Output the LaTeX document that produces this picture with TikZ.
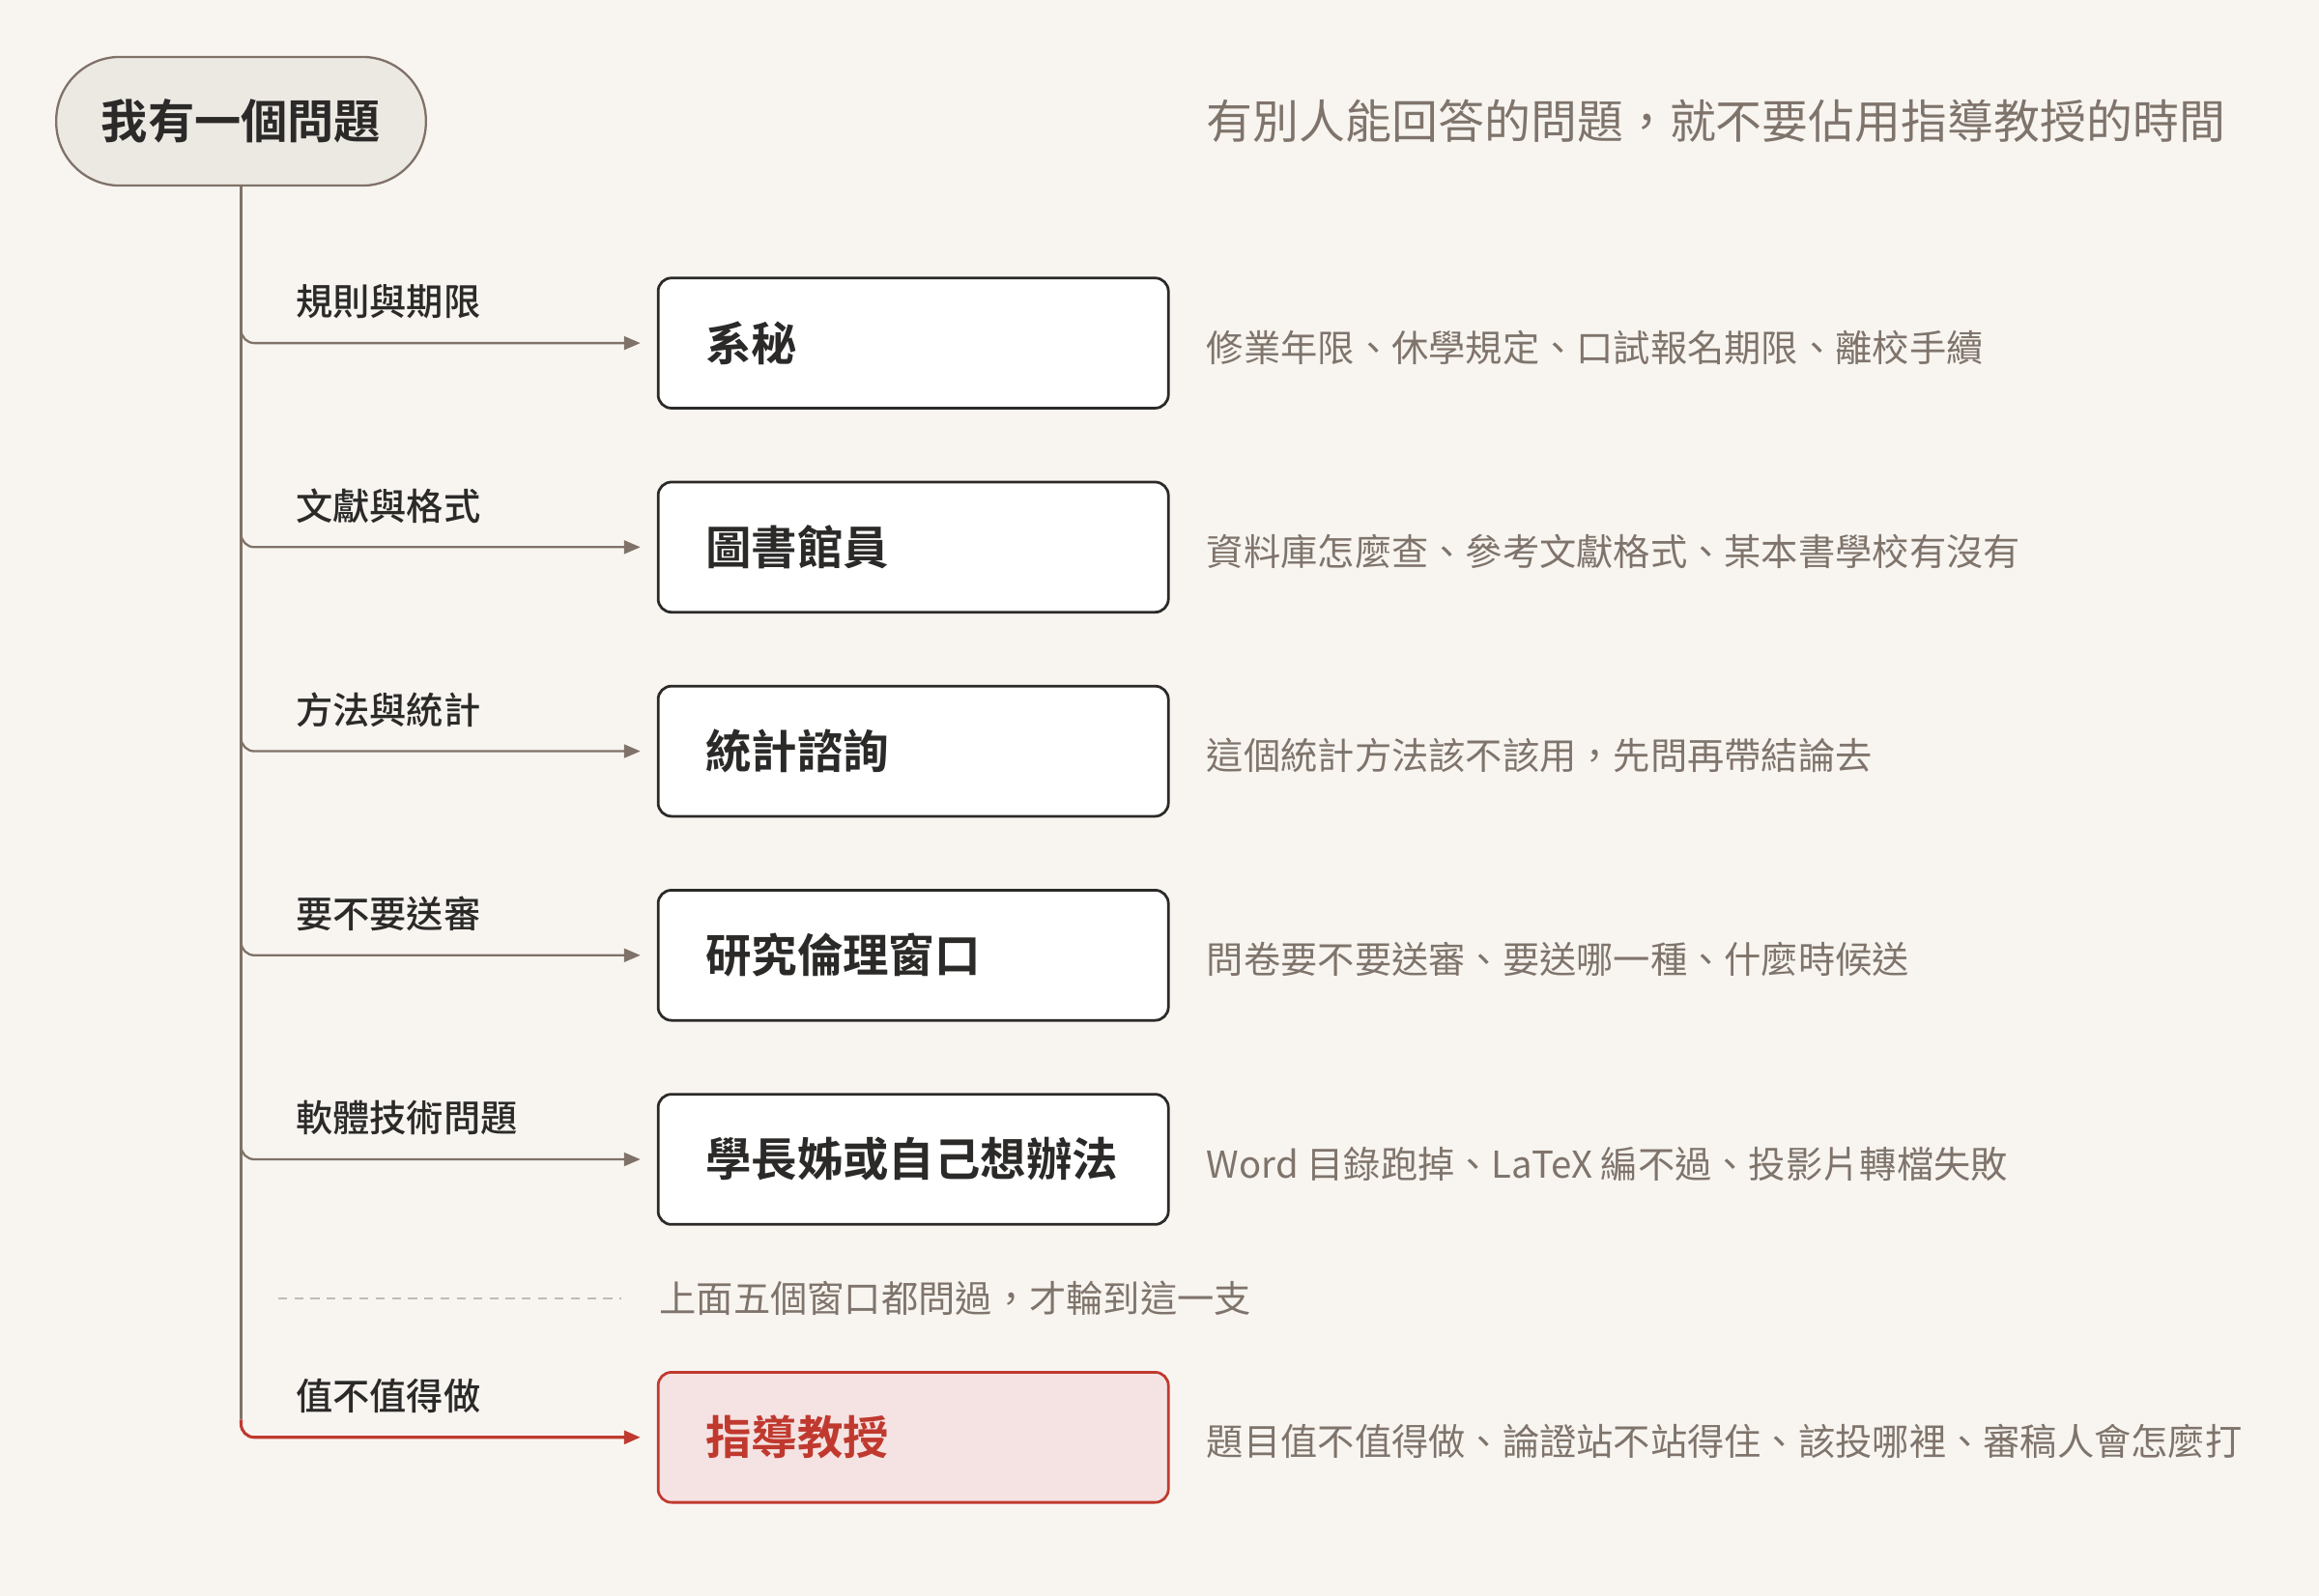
\documentclass[tikz,border=0pt]{standalone}
\usepackage{fontspec}
\newfontfamily\cjk{Noto Sans CJK TC}
\newfontfamily\cjkmed{Noto Sans CJK TC Medium}
\newfontfamily\cjkbold{Noto Sans CJK TC Bold}
\usepackage{tikz}
\usetikzlibrary{calc}
\usetikzlibrary{positioning}
\usetikzlibrary{arrows.meta}

\definecolor{paper}{HTML}{F8F5F1}
\definecolor{pillfill}{HTML}{ECE9E3}
\definecolor{stem}{HTML}{7F7268}
\definecolor{ink}{HTML}{2B2A29}
\definecolor{muted}{HTML}{7F746B}
\definecolor{dashgray}{HTML}{C2BAB2}
\definecolor{advred}{HTML}{C0392F}
\definecolor{advfill}{HTML}{F4E3E2}

\begin{document}
\begin{tikzpicture}[x=1pt,y=-1pt,node distance=50pt,outer sep=0pt]

	\tikzstyle{every node}=[font=\cjk]

	\tikzset{pill/.style={shape=rectangle,rounded corners=43pt,draw=stem,line width=1.5pt,
		fill=pillfill,minimum width=250pt,minimum height=87pt,
		text=ink,font=\cjkbold\fontsize{31.5pt}{36pt}\selectfont}}

	\tikzset{window/.style={shape=rectangle,rounded corners=9pt,draw=ink,line width=1.8pt,
		fill=white,minimum height=88pt,text width=281pt,inner xsep=32pt,inner ysep=0pt,
		align=left,text=ink,font=\cjkbold\fontsize{31pt}{36pt}\selectfont}}

	\tikzset{advisorbox/.style={draw=advred,fill=advfill,text=advred}}

	\tikzset{lab/.style={anchor=west,inner sep=0pt,text=ink,
		font=\cjkmed\fontsize{25pt}{30pt}\selectfont}}

	\tikzset{desc/.style={anchor=west,inner sep=0pt,text=muted,
		font=\cjk\fontsize{25pt}{30pt}\selectfont}}

	\tikzset{branch/.style={draw=stem,line width=1.5pt,rounded corners=9pt,
		-{Triangle[length=11pt,width=9pt]},shorten >=12pt}}

	\useasboundingbox [fill=paper] (0,0) rectangle (1568,1079);

	% The question and the rule of thumb.
	\node (question) [pill] at (163,82) {我有一個問題};
	\node (motto) [desc,font=\cjk\fontsize{31.3pt}{36pt}\selectfont] at (816,82)
		{有別人能回答的問題，就不要佔用指導教授的時間};

	% Windows to ask first, one below another.
	\node (secretary) [window] at (617.5,232) {系秘};
	\node (librarian) [window,below=of secretary] {圖書館員};
	\node (statistics) [window,below=of librarian] {統計諮詢};
	\node (ethics) [window,below=of statistics] {研究倫理窗口};
	\node (seniors) [window,below=of ethics] {學長姊或自己想辦法};
	\node (advisor) [window,advisorbox,below=100pt of seniors] {指導教授};

	% Topics above the branches.
	\node (rules) [lab] at ($(secretary.west)+(-245,-28)$) {規則與期限};
	\node (citing) [lab] at ($(librarian.west)+(-245,-28)$) {文獻與格式};
	\node (methods) [lab] at ($(statistics.west)+(-245,-28)$) {方法與統計};
	\node (review) [lab] at ($(ethics.west)+(-245,-28)$) {要不要送審};
	\node (software) [lab] at ($(seniors.west)+(-245,-28)$) {軟體技術問題};
	\node (worth) [lab] at ($(advisor.west)+(-245,-28)$) {值不值得做};

	% Examples to the right of each window.
	\node (secretaryex) [desc,right=26pt of secretary,yshift=-3pt] {修業年限、休學規定、口試報名期限、離校手續};
	\node (librarianex) [desc,right=26pt of librarian,yshift=-3pt] {資料庫怎麼查、參考文獻格式、某本書學校有沒有};
	\node (statisticsex) [desc,right=26pt of statistics,yshift=-3pt] {這個統計方法該不該用，先問再帶結論去};
	\node (ethicsex) [desc,right=26pt of ethics,yshift=-3pt] {問卷要不要送審、要送哪一種、什麼時候送};
	\node (seniorsex) [desc,right=26pt of seniors,yshift=-3pt] {Word 目錄跑掉、LaTeX 編不過、投影片轉檔失敗};
	\node (advisorex) [desc,right=26pt of advisor,yshift=-3pt] {題目值不值得做、論證站不站得住、該投哪裡、審稿人會怎麼打};

	% Separator before the last branch.
	\coordinate (sepleft) at (188,878);
	\coordinate (sepright) at (420,878);
	\draw [draw=dashgray,line width=1.5pt,dash pattern=on 6pt off 5pt] (sepleft) -- (sepright);
	\node (sepnote) [desc] at (446,878) {上面五個窗口都問過，才輪到這一支};

	% Trunk and branches.
	\coordinate (trunkend) at ([yshift=12pt]advisor.west -| question.south);
	\draw [draw=stem,line width=1.5pt] (question.south) -- (trunkend);
	\draw [branch] ([yshift=12pt]secretary.west -| question.south) |- (secretary.west);
	\draw [branch] ([yshift=12pt]librarian.west -| question.south) |- (librarian.west);
	\draw [branch] ([yshift=12pt]statistics.west -| question.south) |- (statistics.west);
	\draw [branch] ([yshift=12pt]ethics.west -| question.south) |- (ethics.west);
	\draw [branch] ([yshift=12pt]seniors.west -| question.south) |- (seniors.west);
	\draw [branch,draw=advred,line width=2pt] (trunkend) |- (advisor.west);
\end{tikzpicture}
\end{document}
